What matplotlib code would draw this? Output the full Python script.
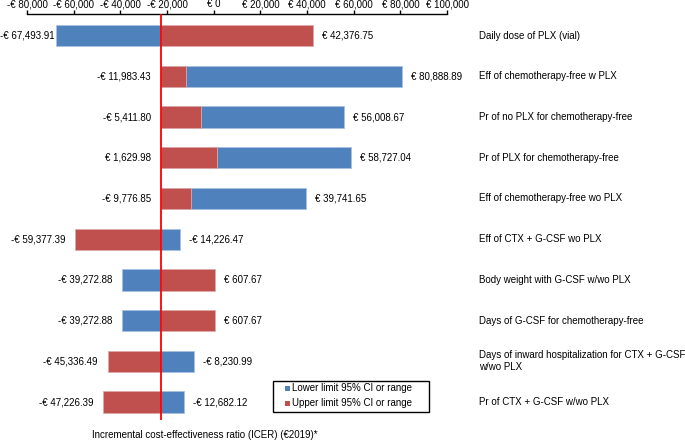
import matplotlib
matplotlib.use("Agg")
import matplotlib.pyplot as plt
from matplotlib.patches import Rectangle
from matplotlib.transforms import offset_copy

plt.rcParams['font.family'] = ['Liberation Sans', 'DejaVu Sans']

categories = [
    "Daily dose of PLX (vial)",
    "Eff of chemotherapy-free w PLX",
    "Pr of no PLX for chemotherapy-free",
    "Pr of PLX for chemotherapy-free",
    "Eff of chemotherapy-free wo PLX",
    "Eff of CTX + G-CSF wo PLX",
    "Body weight with G-CSF w/wo PLX",
    "Days of G-CSF for chemotherapy-free",
    "Days of inward hospitalization for CTX + G-CSF\nw/wo PLX",
    "Pr of CTX + G-CSF w/wo PLX",
]
lower_vals = [-67493.91, 80888.89, 56008.67, 58727.04, 39741.65,
              -14226.47, -39272.88, -39272.88, -8230.99, -12682.12]
upper_vals = [42376.75, -11983.43, -5411.80, 1629.98, -9776.85,
              -59377.39, 607.67, 607.67, -45336.49, -47226.39]
base_icer = -22540
xticks = [-80000, -60000, -40000, -20000, 0, 20000, 40000, 60000, 80000, 100000]
legend_labels = ["Lower limit 95% CI or range", "Upper limit 95% CI or range"]

BLUE = "#4F81BD"
RED = "#C0504D"

def fmt(v):
    s = "€ {:,.2f}".format(abs(v))
    return ("-" + s) if v < 0 else s

def fmt_tick(v):
    s = "€ {:,.0f}".format(abs(v))
    return ("-" + s) if v < 0 else s

W, H = 685, 441
fig = plt.figure(figsize=(W/100, H/100), dpi=100)
ax = fig.add_axes([27/W, 1-420/H, 420/W, 406/H])

ys = list(range(len(categories)))
h = 0.52
ax.barh(ys, [l - base_icer for l in lower_vals], left=base_icer, height=h,
        color=BLUE, edgecolor="#A9C1E0", linewidth=0.6, zorder=2)
ax.barh(ys, [u - base_icer for u in upper_vals], left=base_icer, height=h,
        color=RED, edgecolor="#E0A9A8", linewidth=0.6, zorder=3)

ax.axvline(base_icer, color="#FF0000", linewidth=1.3, zorder=4)

fs = 7.0
for i, (lo, hi) in enumerate(zip(lower_vals, upper_vals)):
    vmin, vmax = min(lo, hi), max(lo, hi)
    lx = min(vmin, base_icer)
    off = -2 if lx < -62000 else -10
    t = offset_copy(ax.transData, fig=fig, x=off, y=0, units='dots')
    ax.text(lx, i, fmt(vmin), transform=t, ha='right', va='center', fontsize=fs)
    t2 = offset_copy(ax.transData, fig=fig, x=9, y=0, units='dots')
    ax.text(vmax, i, fmt(vmax), transform=t2, ha='left', va='center', fontsize=fs)
    ax.annotate(categories[i], xy=(1, i), xycoords=('axes fraction', 'data'),
                xytext=(32, 0), textcoords='offset pixels', ha='left', va='center',
                fontsize=fs, linespacing=1.25)

ax.set_xlim(-80000, 100000)
ax.set_ylim(9.44, -0.53)
ax.xaxis.tick_top()
ax.set_xticks(xticks)
ax.set_xticklabels([fmt_tick(v) for v in xticks], fontsize=fs)
ax.tick_params(axis='x', direction='out', length=3, width=1, pad=0.5)
ax.set_yticks([])
for s in ['left', 'right', 'bottom']:
    ax.spines[s].set_visible(False)
ax.spines['top'].set_linewidth(1)

fig.text(205/W, 1-435/H, "Incremental cost-effectiveness ratio (ICER) (€2019)*",
         ha='center', va='center', fontsize=fs)

# legend box (manual)
fig.patches.append(Rectangle((273/W, 1-412/H), 156/W, 31/H, transform=fig.transFigure,
                             facecolor='white', edgecolor='black', linewidth=1.0, zorder=5))
for k, (lab, col) in enumerate(zip(legend_labels, [BLUE, RED])):
    yc = 388 + 15*k
    fig.patches.append(Rectangle((285/W, 1-(yc+2.5)/H), 5/W, 5/H, transform=fig.transFigure,
                                 facecolor=col, edgecolor='none', zorder=6))
    fig.text(292/W, 1-yc/H, lab, ha='left', va='center', fontsize=fs, zorder=7)

fig.savefig("out.png", dpi=100)
